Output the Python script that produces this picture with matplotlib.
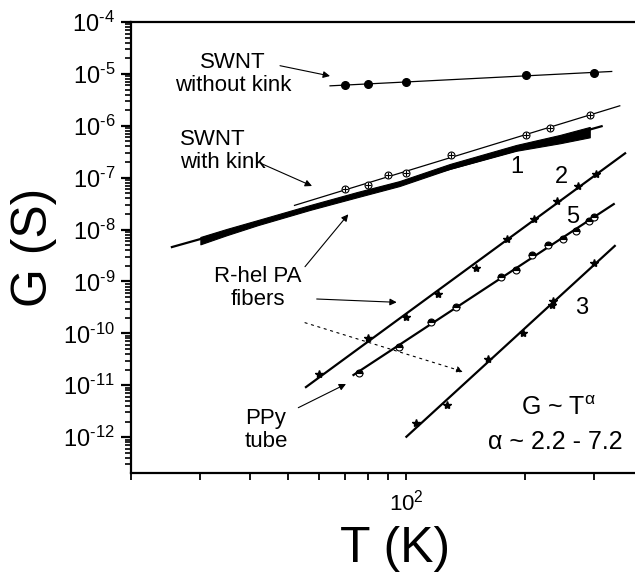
import numpy as np
import matplotlib
matplotlib.use('Agg')
import matplotlib.pyplot as plt
from matplotlib.ticker import LogLocator, FixedLocator, FuncFormatter, NullFormatter

plt.rcParams['font.family'] = ['Liberation Sans', 'DejaVu Sans']
plt.rcParams['mathtext.fontset'] = 'custom'
plt.rcParams['mathtext.rm'] = 'Liberation Sans'
plt.rcParams['mathtext.it'] = 'Liberation Sans:italic'

## ---- data ----
# SWNT without kink (filled circles)
T_nokink = [70, 80, 100, 201, 300]
G_nokink = [6.1e-6, 6.3e-6, 7.0e-6, 9.7e-6, 1.03e-5]
fit_nokink = [64, 332]

# SWNT with kink (crossed circles)
T_kink = [70, 80, 90, 100, 130, 201, 231, 292]
G_kink = [6.05e-8, 7.2e-8, 1.13e-7, 1.23e-7, 2.77e-7, 6.65e-7, 9.2e-7, 1.61e-6]
fit_kink = [52, 348]

# curve 1: R-hel PA fibers, dense data band (upper / lower edge)
T_1 = [30, 35, 42, 57, 75, 96, 129, 190, 245, 292]
G_1_hi = [7.2e-9, 1.03e-8, 1.53e-8, 2.98e-8, 5.3e-8, 8.6e-8, 1.84e-7, 4.27e-7, 6.65e-7, 9.5e-7]
G_1_lo = [5.2e-9, 7.8e-9, 1.22e-8, 2.4e-8, 4.2e-8, 6.9e-8, 1.48e-7, 3.3e-7, 4.6e-7, 6.0e-7]
fit_1 = [25.4, 313]

# curve 2 (stars)
T_2 = [60, 80, 100, 120, 150, 180, 211, 241, 273, 302]
G_2 = [1.63e-11, 8.05e-11, 2.1e-10, 5.66e-10, 1.8e-9, 6.5e-9, 1.6e-8, 3.5e-8, 7.0e-8, 1.16e-7]
fit_2 = [55.6, 359]

# curve 5: PPy tube (half filled circles)
T_5 = [75.6, 96, 115.6, 133.6, 173.5, 189.4, 208.4, 228.5, 250, 270, 290.5, 299]
G_5 = [1.75e-11, 5.55e-11, 1.64e-10, 3.27e-10, 1.22e-9, 1.67e-9, 3.28e-9,
       4.94e-9, 6.5e-9, 9.5e-9, 1.47e-8, 1.73e-8]
fit_5 = [73.4, 336]

# curve 3 (stars)
T_3 = [106, 127, 161, 198, 234, 236, 299]
G_3 = [1.85e-12, 4.17e-12, 3.2e-11, 1.0e-10, 3.6e-10, 4.2e-10, 2.24e-9]
fit_3 = [100, 338]

W, H = 635, 576

def px(x, y):
    # image pixel -> figure fraction
    return (x / W, 1 - y / H)

def powerfit(T, G, trange):
    a, b = np.polyfit(np.log10(T), np.log10(G), 1)
    tt = np.array(trange, dtype=float)
    return tt, 10 ** (a * np.log10(tt) + b)

#____________________________________________________________________________________________________
fig = plt.figure(figsize=(W / 100, H / 100), dpi=100)
ax = fig.add_axes([131 / W, 103 / H, 512.6 / W, 451 / H])
ax.set_xscale('log')
ax.set_yscale('log')
ax.set_xlim(20, 400)
ax.set_ylim(10 ** -12.69, 1e-4)

## SWNT without kink
tt, gg = powerfit(T_nokink, G_nokink, fit_nokink)
ax.plot(tt, gg, color='black', lw=0.9)
ax.plot(T_nokink, G_nokink, 'o', color='black', ms=5.5, ls='none')

## SWNT with kink
tt, gg = powerfit(T_kink, G_kink, fit_kink)
ax.plot(tt, gg, color='black', lw=0.9)
ax.plot(T_kink, G_kink, 'o', mfc='white', mec='black', mew=0.8, ms=5, ls='none')
ax.plot(T_kink, G_kink, '+', color='black', mew=0.8, ms=5, ls='none')

## curve 1
G_1_mid = np.sqrt(np.array(G_1_hi) * np.array(G_1_lo))
tt, gg = powerfit(T_1, G_1_mid, fit_1)
ax.plot(tt, gg, color='black', lw=1.6)
ax.fill_between(T_1, G_1_lo, G_1_hi, color='black', lw=0.8, edgecolor='black')

## curve 2
tt, gg = powerfit(T_2, G_2, fit_2)
ax.plot(tt, gg, color='black', lw=1.6)
ax.plot(T_2, G_2, '*', color='black', ms=6, ls='none')

## curve 5
tt, gg = powerfit(T_5, G_5, fit_5)
ax.plot(tt, gg, color='black', lw=1.6)
ax.plot(T_5, G_5, 'o', fillstyle='top', mfc='black', mfcalt='white', mec='black',
        mew=0.8, ms=5, ls='none')

## curve 3
tt, gg = powerfit(T_3, G_3, fit_3)
ax.plot(tt, gg, color='black', lw=1.6)
ax.plot(T_3, G_3, '*', color='black', ms=6, ls='none')

## Axes styling
for side in ['left', 'bottom', 'top', 'right']:
    ax.spines[side].set_linewidth(1.6)
ymajor = [10.0 ** e for e in range(-12, -3)]
yminor = [m * 10.0 ** e for e in range(-13, -4) for m in range(2, 10)]
ax.yaxis.set_major_locator(FixedLocator(ymajor))
ax.yaxis.set_minor_locator(FixedLocator(yminor))
ax.yaxis.set_minor_formatter(NullFormatter())
ax.yaxis.set_major_formatter(FuncFormatter(
    lambda v, p: r'$\mathregular{10^{\text{-}%d}}$' % round(-np.log10(v))))
ax.xaxis.set_major_locator(LogLocator(base=10, numticks=10))
ax.xaxis.set_minor_locator(LogLocator(base=10, subs=np.arange(2, 10), numticks=10))
ax.xaxis.set_minor_formatter(NullFormatter())
ax.xaxis.set_major_formatter(FuncFormatter(
    lambda v, p: r'$\mathregular{10^{%d}}$' % round(np.log10(v))))
ax.tick_params(axis='y', which='major', direction='out', length=7.5, width=1.6,
               labelsize=17, pad=4, color='black')
ax.tick_params(axis='y', which='minor', direction='out', length=4, width=1.2,
               left=True, color='black')
ax.tick_params(axis='x', which='both', direction='out', length=5, width=1.3,
               labelsize=16, pad=7)

ax.set_ylabel('G (S)', fontsize=36)
ax.yaxis.set_label_coords(-(131 - 34) / 512.6, 0.5)
ax.set_xlabel('T (K)', fontsize=36)
ax.xaxis.set_label_coords((395 - 131) / 512.6, -(549 - 473) / 451)
ax.xaxis.label.set_verticalalignment('center')
ax.yaxis.label.set_verticalalignment('center')

## Annotations
txt = dict(fontsize=16, color='black', va='center', xycoords='figure fraction',
           textcoords='figure fraction', linespacing=1.15)
arr = dict(arrowstyle='-|>', lw=0.8, color='black', mutation_scale=10, shrinkA=0, shrinkB=0)

ax.annotate('SWNT\nwithout kink', xy=px(233, 74), ha='center', multialignment='center', **txt)
ax.annotate('', xy=px(330, 76), xytext=px(280, 65.7), arrowprops=arr, **txt)

ax.annotate('SWNT\nwith kink', xy=px(180, 151), ha='left', multialignment='left', **txt)
ax.annotate('', xy=px(312, 186), xytext=px(260, 163), arrowprops=arr, **txt)

ax.annotate('R-hel PA\nfibers', xy=px(258, 288), ha='center', multialignment='center', **txt)
ax.annotate('', xy=px(348.3, 214.3), xytext=px(305, 266.7), arrowprops=arr, **txt)
ax.annotate('', xy=px(396.7, 302.3), xytext=px(316.7, 299), arrowprops=arr, **txt)
ax.annotate('', xy=px(463.3, 371.7), xytext=px(305, 322.7),
            arrowprops=dict(arr, linestyle=(0, (2, 4))), **txt)

ax.annotate('PPy\ntube', xy=px(266, 430), ha='center', multialignment='center', **txt)
ax.annotate('', xy=px(346, 384), xytext=px(298.3, 407.7), arrowprops=arr, **txt)

num = dict(fontsize=17, ha='center', va='center', transform=fig.transFigure)
for s, (x, y) in zip(['1', '2', '5', '3'],
                     [(516.7, 166.7), (561, 177.3), (572.3, 217.3), (581.7, 308.3)]):
    fig.text(*px(x, y), s, **num)

fig.text(*px(559, 408), r'G ~ T$^{\mathregular{\alpha}}$', fontsize=18, ha='center', va='center')
fig.text(*px(555, 441.7), 'α ~ 2.2 - 7.2', fontsize=18, ha='center', va='center')

plt.savefig('out.png', dpi=100)
plt.close(fig)
